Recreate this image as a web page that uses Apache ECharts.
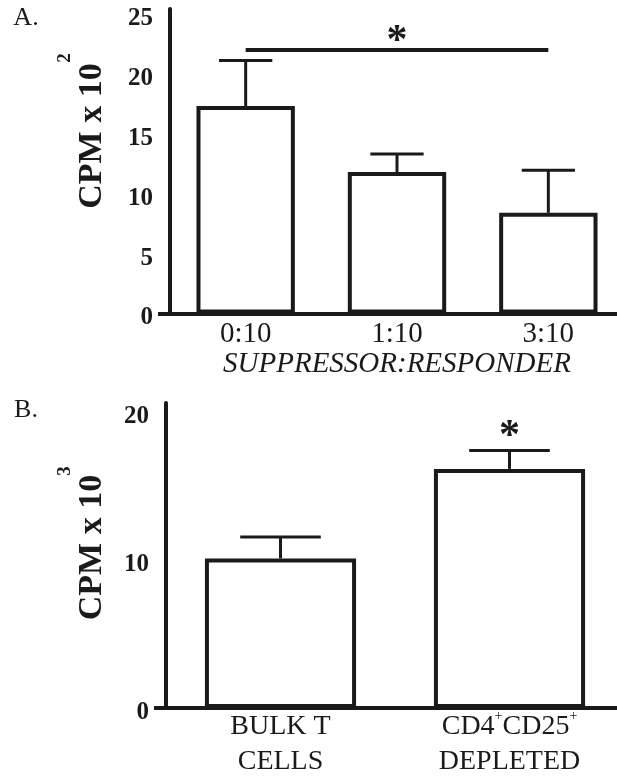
<!DOCTYPE html>
<html>
<head>
<meta charset="utf-8">
<script src="https://cdn.jsdelivr.net/npm/echarts@6/dist/echarts.min.js"></script>
<style>body{margin:0;background:#fff;}</style>
</head>
<body>
<div id="main" style="width:617px;height:781px;"></div>
<script type="text/javascript">
// panel A: suppressor:responder ratio
var catsA = ['0:10', '1:10', '3:10'];
var meanA = [17.3, 11.8, 8.4];
var semA = [3.8, 1.5, 3.55];
var ticksA = [0, 5, 10, 15, 20, 25];
var sigA = 22.0;   // height of significance bar
// panel B: bulk vs depleted
var catsB = ['BULK T\nCELLS', 'CD4+CD25+\nDEPLETED'];
var meanB = [10.1, 16.15];
var semB = [1.45, 1.25];
var ticksB = [0, 10, 20];
var starB = 18.8;

var INK = '#1a1a1a';
var SERIF = 'Liberation Serif, Times New Roman, Times, serif';

var myChart = echarts.init(document.getElementById('main'));

// error bar: stem from bar top + cap
function errRender(params, api) {
    var x = api.value(0), m = api.value(1), t = api.value(2);
    var p0 = api.coord([x, m]);
    var p1 = api.coord([x, t]);
    var half = api.size([1, 0])[0] * 0.176;
    var st = { stroke: INK, lineWidth: 3 };
    return {
        type: 'group',
        children: [
            { type: 'line', shape: { x1: p0[0], y1: p0[1], x2: p1[0], y2: p1[1] }, style: st },
            { type: 'line', shape: { x1: p1[0] - half, y1: p1[1], x2: p1[0] + half, y2: p1[1] }, style: st }
        ]
    };
}

function errData(means, sems) {
    return means.map(function (m, i) { return [i, m, m + sems[i]]; });
}

function yAxisOpt(idx, max, ticks) {
    return {
        type: 'value', gridIndex: idx, min: 0, max: max, interval: 5,
        axisLine: { show: true, lineStyle: { color: INK, width: 4 } },
        axisTick: { show: true, customValues: [0], length: 12, lineStyle: { color: INK, width: 4 } },
        axisLabel: {
            customValues: ticks, margin: 17, color: INK,
            verticalAlign: 'top', lineHeight: 9,
            fontFamily: SERIF, fontWeight: 'bold', fontSize: 25
        },
        splitLine: { show: false }
    };
}

function ytitle(main, sup, cy, supY) {
    return [
        { type: 'text', x: 92.5, y: cy, rotation: Math.PI / 2,
          style: { text: main, fontFamily: SERIF, fontWeight: 'bold', fontSize: 34, fill: INK, align: 'center', verticalAlign: 'middle' } },
        { type: 'text', x: 65, y: supY, rotation: Math.PI / 2,
          style: { text: sup, fontFamily: SERIF, fontWeight: 'bold', fontSize: 19, fill: INK, align: 'center', verticalAlign: 'middle' } }
    ];
}

myChart.setOption({
    animation: false,
    backgroundColor: '#fff',
    grid: [
        { left: 170, right: -7, top: 9, height: 304.5, outerBoundsMode: 'none' },
        { left: 166, right: -7, top: 403, height: 305, outerBoundsMode: 'none' }
    ],
    xAxis: [
        {
            type: 'category', gridIndex: 0, data: catsA,
            axisLine: { lineStyle: { color: INK, width: 4 } },
            axisTick: { show: false },
            axisLabel: { interval: 0, margin: 6, color: INK, fontFamily: SERIF, fontSize: 29 },
            name: 'SUPPRESSOR:RESPONDER', nameLocation: 'middle', nameGap: 36, nameMoveOverlap: false,
            nameTextStyle: { color: INK, fontFamily: SERIF, fontStyle: 'italic', fontSize: 29 }
        },
        {
            type: 'category', gridIndex: 1, data: catsB,
            axisLine: { lineStyle: { color: INK, width: 4 } },
            axisTick: { show: false },
            axisLabel: {
                interval: 0, hideOverlap: false, margin: 1, color: INK, fontFamily: SERIF, fontSize: 28, lineHeight: 35,
                formatter: function (v) { return v.replace(/\+/g, '{s|+}'); },
                rich: { s: { fontFamily: SERIF, fontSize: 14, color: INK, verticalAlign: 'top', lineHeight: 24 } }
            }
        }
    ],
    yAxis: [yAxisOpt(0, 25.4, ticksA), yAxisOpt(1, 20.6, ticksB)],
    graphic: [
        { type: 'text', x: 26, y: 18, style: { text: 'A.', fontFamily: SERIF, fontSize: 26, fill: INK, align: 'center', verticalAlign: 'middle' } },
        { type: 'text', x: 26, y: 410, style: { text: 'B.', fontFamily: SERIF, fontSize: 26, fill: INK, align: 'center', verticalAlign: 'middle' } }
    ].concat(ytitle('CPM x 10', '2', 136, 58), ytitle('CPM x 10', '3', 547.5, 471)),
    series: [
        {
            type: 'bar', xAxisIndex: 0, yAxisIndex: 0, data: meanA, barWidth: '65%',
            itemStyle: { color: '#fff', borderColor: INK, borderWidth: 4 },
            markLine: {
                silent: true, symbol: 'none',
                lineStyle: { color: INK, width: 4, type: 'solid' },
                label: { show: true, position: 'middle', formatter: '*', distance: -2,
                         color: INK, fontFamily: SERIF, fontWeight: 'bold', fontSize: 42, lineHeight: 20 },
                data: [[{ coord: [catsA[0], sigA] }, { coord: [catsA[2], sigA] }]]
            }
        },
        {
            type: 'custom', xAxisIndex: 0, yAxisIndex: 0, renderItem: errRender,
            data: errData(meanA, semA), encode: { x: 0, y: [1, 2] }, z: 3
        },
        {
            type: 'bar', xAxisIndex: 1, yAxisIndex: 1, data: meanB, barWidth: '66%',
            itemStyle: { color: '#fff', borderColor: INK, borderWidth: 4 },
            markPoint: {
                silent: true, symbol: 'circle', symbolSize: 0,
                label: { show: true, position: 'inside', formatter: '*', offset: [0, 8],
                         color: INK, fontFamily: SERIF, fontWeight: 'bold', fontSize: 42 },
                data: [{ coord: [catsB[1], starB] }]
            }
        },
        {
            type: 'custom', xAxisIndex: 1, yAxisIndex: 1, renderItem: errRender,
            data: errData(meanB, semB), encode: { x: 0, y: [1, 2] }, z: 3
        }
    ]
});
</script>
</body>
</html>
